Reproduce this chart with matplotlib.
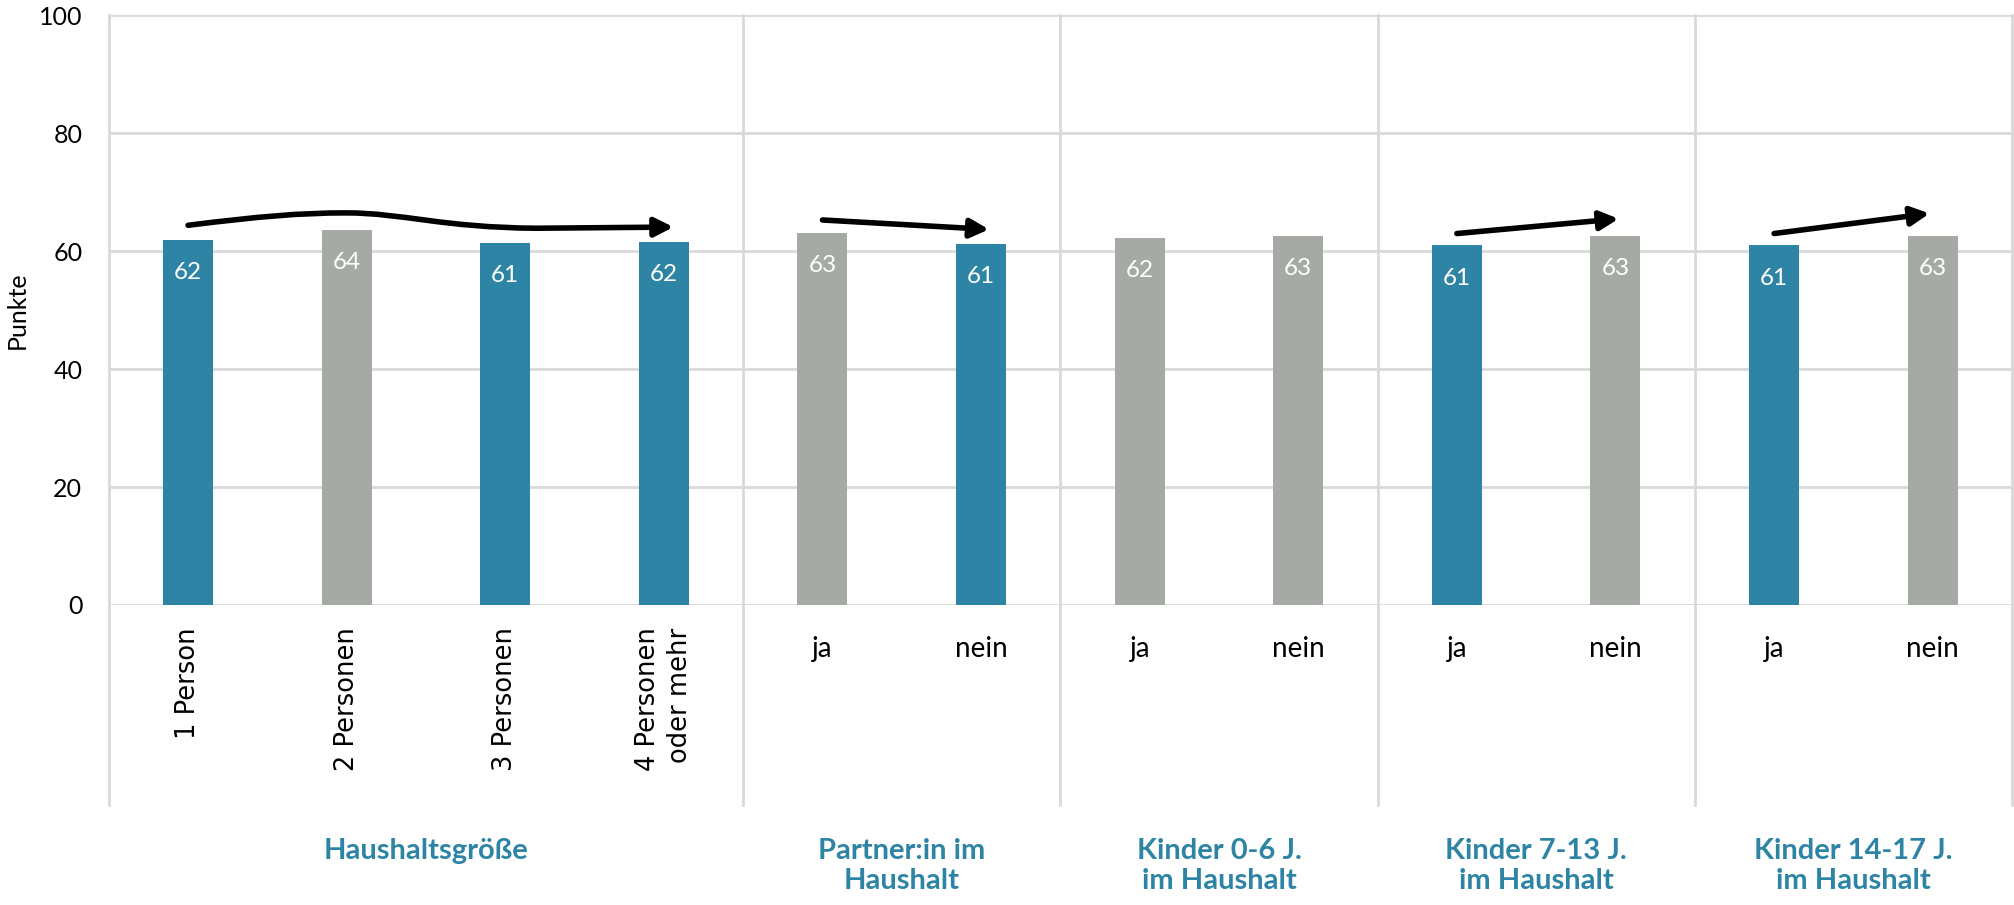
import matplotlib.pyplot as plt
import matplotlib.transforms as mtransforms
from matplotlib.patches import FancyArrowPatch
from matplotlib.path import Path

# --- data ---
categories = ["1 Person", "2 Personen", "3 Personen", "4 Personen\noder mehr",
              "ja", "nein", "ja", "nein", "ja", "nein", "ja", "nein"]
values = [61.9, 63.6, 61.4, 61.6, 63.1, 61.2, 62.3, 62.6, 61.0, 62.6, 61.0, 62.6]
bar_kind = ["blue", "grey", "blue", "blue", "grey", "blue",
            "grey", "grey", "blue", "grey", "blue", "grey"]
groups = ["Haushaltsgröße", "Partner:in im\nHaushalt", "Kinder 0-6 J.\nim Haushalt",
          "Kinder 7-13 J.\nim Haushalt", "Kinder 14-17 J.\nim Haushalt"]
group_sizes = [4, 2, 2, 2, 2]
y_ticks = [0, 20, 40, 60, 80, 100]

# trend arrows (x in category index, y in points)
curve_pts = [(0, 64.4), (0.45, 65.9), (0.7, 66.5), (1.0, 66.5),
             (1.35, 66.5), (1.6, 64.0), (2.2, 63.9), (3.06, 64.1)]
straight_arrows = [((4, 65.3), (5.05, 63.7)),
                   ((8, 63.0), (9.02, 65.5)),
                   ((10, 63.0), (10.98, 66.4))]

# --- style ---
BLUE = "#2E84A4"
GREY = "#A5ABA4"
GRID = "#D9D9D9"
palette = {"blue": BLUE, "grey": GREY}
FONT = "Lato"

fig = plt.figure(figsize=(20.14, 9.05), dpi=100)
ax = fig.add_axes([0.054, 0.3315, 0.945, 0.6515])

x = list(range(len(categories)))
ax.bar(x, values, width=0.315, color=[palette[k] for k in bar_kind], zorder=3)

ax.set_xlim(-0.5, len(categories) - 0.5)
ax.set_ylim(0, 100)
ax.set_yticks(y_ticks)
ax.set_yticklabels([str(t) for t in y_ticks], fontfamily=FONT, fontsize=18)
ax.tick_params(axis="y", length=0, pad=19)
ax.set_xticks([])
ax.grid(axis="y", color=GRID, lw=2, zorder=0)
for s in ax.spines.values():
    s.set_visible(False)

# value labels inside the bars
for xi, v in zip(x, values):
    ax.annotate(f"{v:.0f}", (xi, v), xytext=(0, -28.3), textcoords="offset points",
                ha="center", va="baseline", color="white",
                fontfamily=FONT, fontsize=17.5, zorder=4)

trans = mtransforms.blended_transform_factory(ax.transData, ax.transAxes)

# group separators (reach down into the label area)
bounds = [-0.5]
for n in group_sizes:
    bounds.append(bounds[-1] + n)
for b in bounds:
    ax.plot([b, b], [1, -0.339], transform=trans, color=GRID, lw=2,
            clip_on=False, zorder=1)

# category labels
for xi, lab in zip(x, categories):
    if xi < 4:
        ax.text(xi, -0.038, lab, transform=trans, rotation=90, ha="center",
                va="top", multialignment="right", linespacing=1.3,
                fontfamily="DejaVu Sans", fontsize=18.5)
    else:
        ax.text(xi, -0.088, lab, transform=trans, ha="center", va="baseline",
                fontfamily=FONT, fontsize=20)

# group labels
start = 0
for name, n in zip(groups, group_sizes):
    cx = start + (n - 1) / 2
    ax.text(cx, -0.395, name, transform=trans, ha="center", va="top",
            color=BLUE, fontweight="bold", fontfamily=FONT, fontsize=21,
            linespacing=1.2)
    start += n

fig.text(17 / 2014, 0.657, "Punkte", rotation=90, ha="center", va="center",
         fontfamily=FONT, fontsize=18)

# trend arrows
codes = [Path.MOVETO] + [Path.CURVE4] * 6 + [Path.LINETO]
arrow_style = "-|>,head_length=0.55,head_width=0.28"
ax.add_patch(FancyArrowPatch(path=Path(curve_pts, codes), arrowstyle=arrow_style,
                             mutation_scale=20, lw=4, color="black", zorder=5))
for p0, p1 in straight_arrows:
    ax.add_patch(FancyArrowPatch(p0, p1, arrowstyle=arrow_style, mutation_scale=20,
                                 lw=4, color="black", shrinkA=0, shrinkB=0,
                                 zorder=5))

fig.savefig("out.png", dpi=100)
